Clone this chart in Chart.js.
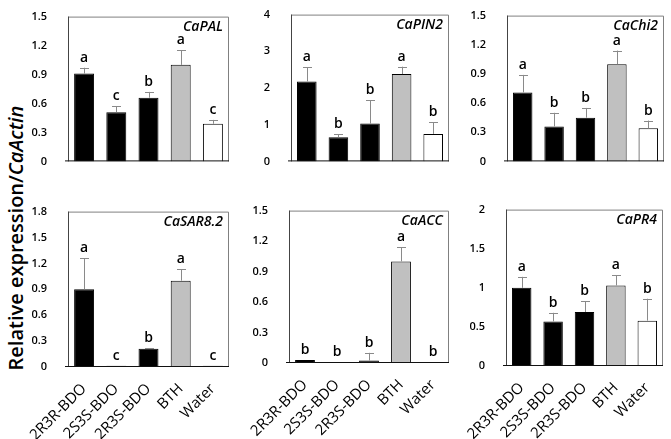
<!DOCTYPE html>
<html>
<head>
<meta charset="utf-8">
<script src="https://cdn.jsdelivr.net/npm/chart.js@4.4.1/dist/chart.umd.min.js"></script>
<style>
  body { margin: 0; background: #fff; }
  #wrap { position: relative; width: 671px; height: 439px; overflow: hidden; background: #fff; }
  #wrap canvas { position: absolute; }
  #ytitle {
    position: absolute; left: 15px; top: 238px;
    transform: translate(-50%, -50%) rotate(-90deg);
    white-space: nowrap; font-family: "Open Sans", sans-serif; font-size: 20px; font-weight: 600; color: #000;
  }
</style>
</head>
<body>
<div id="wrap">
  <div id="ytitle">Relative expression/<i>CaActin</i></div>
</div>
<script>
// treatments on the x axis
var treatments = ['2R3R-BDO', '2S3S-BDO', '2R3S-BDO', 'BTH', 'Water'];

// relative expression means and standard errors, one pair per gene
var palMean = [0.91, 0.51, 0.66, 1.0, 0.39];
var palErr  = [0.06, 0.06, 0.06, 0.15, 0.04];
var palLetters = ['a', 'c', 'b', 'a', 'c'];

var pinMean = [2.18, 0.66, 1.03, 2.38, 0.75];
var pinErr  = [0.39, 0.08, 0.64, 0.20, 0.32];
var pinLetters = ['a', 'b', 'b', 'a', 'b'];

var chiMean = [0.71, 0.36, 0.45, 1.0, 0.34];
var chiErr  = [0.18, 0.14, 0.10, 0.14, 0.08];
var chiLetters = ['a', 'b', 'b', 'a', 'b'];

var sarMean = [0.90, 0.015, 0.21, 1.0, 0.015];
var sarErr  = [0.36, 0, 0.01, 0.13, 0];
var sarLetters = ['a', 'c', 'b', 'a', 'c'];

var accMean = [0.03, 0.006, 0.025, 1.0, 0.006];
var accErr  = [0, 0, 0.075, 0.14, 0];
var accLetters = ['b', 'b', 'b', 'a', 'b'];

var pr4Mean = [1.0, 0.57, 0.69, 1.03, 0.58];
var pr4Err  = [0.14, 0.11, 0.14, 0.13, 0.28];
var pr4Letters = ['a', 'b', 'b', 'a', 'b'];

// y axis ranges
var yMaxes = [1.5, 4, 1.5, 1.8, 1.5, 2];
var ySteps = [0.3, 1, 0.3, 0.3, 0.3, 0.5];

var panels = [
  { gene: 'CaPAL',    mean: palMean, err: palErr, letters: palLetters, box: [68, 7, 229, 173],   bottomRow: false },
  { gene: 'CaPIN2',   mean: pinMean, err: pinErr, letters: pinLetters, box: [291, 5, 449, 173],  bottomRow: false },
  { gene: 'CaChi2',   mean: chiMean, err: chiErr, letters: chiLetters, box: [507, 6, 664, 173],  bottomRow: false },
  { gene: 'CaSAR8.2', mean: sarMean, err: sarErr, letters: sarLetters, box: [68, 202, 229, 367], bottomRow: true },
  { gene: 'CaACC',    mean: accMean, err: accErr, letters: accLetters, box: [289, 201, 449, 363], bottomRow: true },
  { gene: 'CaPR4',    mean: pr4Mean, err: pr4Err, letters: pr4Letters, box: [506, 200, 663, 366], bottomRow: true }
];

var barColors = ['#000000', '#000000', '#000000', '#c0c0c0', '#ffffff'];

// error bars + significance letters + gene name + frame
var decorPlugin = {
  id: 'decor',
  afterDatasetsDraw: function(chart) {
    var ctx = chart.ctx;
    var p = chart.options.plugins.decor;
    var meta = chart.getDatasetMeta(0);
    var ys = chart.scales.y;
    var area = chart.chartArea;

    ctx.save();
    meta.data.forEach(function(bar, i) {
      var top = bar.y;
      if (p.err[i] > 0) {
        var yTop = ys.getPixelForValue(p.mean[i] + p.err[i]);
        ctx.strokeStyle = '#8a8a8a';
        ctx.lineWidth = 1;
        ctx.beginPath();
        ctx.moveTo(Math.round(bar.x) + 0.5, top);
        ctx.lineTo(Math.round(bar.x) + 0.5, yTop);
        ctx.moveTo(Math.round(bar.x) - 4, Math.round(yTop) + 0.5);
        ctx.lineTo(Math.round(bar.x) + 5, Math.round(yTop) + 0.5);
        ctx.stroke();
        top = yTop;
      }
      ctx.fillStyle = '#000';
      ctx.font = '600 14px "Open Sans"';
      ctx.textAlign = 'center';
      ctx.textBaseline = 'bottom';
      ctx.fillText(p.letters[i], bar.x, top - 3);
    });

    // gene name
    ctx.font = 'italic 600 14px "Open Sans"';
    ctx.textAlign = 'right';
    ctx.textBaseline = 'top';
    ctx.fillStyle = '#000';
    ctx.fillText(p.gene, area.right - 6, area.top + 3);

    // frame
    ctx.lineWidth = 1;
    ctx.strokeStyle = '#808080';
    ctx.beginPath();
    ctx.moveTo(area.left, area.top + 0.5);
    ctx.lineTo(area.right - 0.5, area.top + 0.5);
    ctx.lineTo(area.right - 0.5, area.bottom);
    ctx.stroke();
    ctx.strokeStyle = '#444';
    ctx.beginPath();
    ctx.moveTo(area.left + 0.5, area.top);
    ctx.lineTo(area.left + 0.5, area.bottom);
    ctx.stroke();
    ctx.strokeStyle = '#111';
    ctx.beginPath();
    ctx.moveTo(area.left - 3, area.bottom - 0.5);
    ctx.lineTo(area.right, area.bottom - 0.5);
    ctx.stroke();
    ctx.restore();
  }
};

var wrap = document.getElementById('wrap');

panels.forEach(function(panel, k) {
  var L = panel.box[0], T = panel.box[1], R = panel.box[2], B = panel.box[3];
  var padTop = 10, padRight = 8, yW = 60;
  var W = (R - L) + yW + padRight;
  var H = panel.bottomRow ? (439 - T + padTop) : (B - T) + padTop + 8;
  var xH = H - padTop - (B - T);

  var canvas = document.createElement('canvas');
  canvas.width = W;
  canvas.height = H;
  canvas.style.left = (L - yW) + 'px';
  canvas.style.top = (T - padTop) + 'px';
  wrap.appendChild(canvas);

  new Chart(canvas.getContext('2d'), {
    type: 'bar',
    data: {
      labels: treatments,
      datasets: [{
        data: panel.mean,
        backgroundColor: barColors,
        borderColor: '#000',
        borderWidth: 1,
        barPercentage: 0.62,
        categoryPercentage: 1.0
      }]
    },
    options: {
      responsive: false,
      animation: false,
      devicePixelRatio: 1,
      layout: { padding: { left: 0, top: padTop, right: padRight, bottom: 0 } },
      plugins: {
        legend: { display: false },
        tooltip: { enabled: false },
        decor: { gene: panel.gene, mean: panel.mean, err: panel.err, letters: panel.letters }
      },
      scales: {
        x: {
          grid: { display: false },
          border: { display: false },
          ticks: {
            display: panel.bottomRow,
            minRotation: 45,
            maxRotation: 45,
            padding: 5,
            color: '#000',
            font: { family: 'Open Sans', size: 15 }
          },
          afterFit: function(scale) { scale.height = xH; }
        },
        y: {
          min: 0,
          max: yMaxes[k],
          grid: { display: false },
          border: { display: false },
          ticks: {
            stepSize: ySteps[k],
            padding: 13,
            color: '#000',
            font: { family: 'Open Sans', size: 11, weight: '600' },
            callback: function(v) { return String(Number(v.toFixed(1))); }
          },
          afterFit: function(scale) { scale.width = yW; }
        }
      }
    },
    plugins: [decorPlugin]
  });
});
</script>
</body>
</html>
